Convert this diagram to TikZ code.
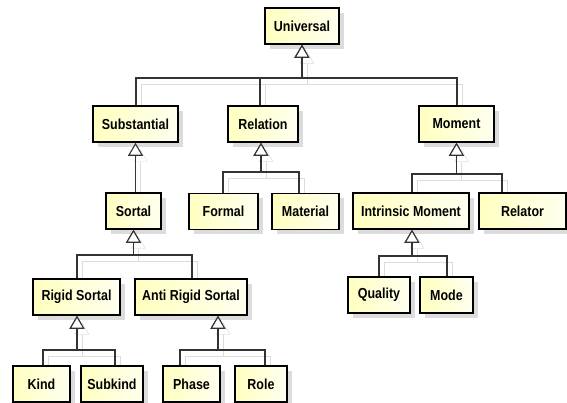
\documentclass[tikz,border=0pt]{standalone}
\usepackage{fontspec}
\newfontfamily\umlfont{Liberation Sans}[FakeStretch=0.86]
\usetikzlibrary{arrows.meta,shadows}
\definecolor{classfill}{HTML}{FFFFC0}
\definecolor{shadowgray}{HTML}{DCDCDC}
\tikzset{
  cls/.style={draw=black, line width=1.6pt, left color=classfill, right color=classfill!25,
    minimum height=36pt, inner sep=0pt, font=\umlfont\fontsize{14.5}{16}\selectfont\bfseries,
    drop shadow={shadow xshift=5pt, shadow yshift=-5pt, fill=shadowgray, opacity=1}},
  gen/.style={draw=black!80, line width=1.1pt, -{Triangle[fill=white, length=13pt, width=15pt]},
    preaction={draw=shadowgray, transform canvas={shift={(5pt,-6pt)}}, shorten <=6pt}}
}
\begin{document}
\begin{tikzpicture}[x=1pt,y=-1pt]
\useasboundingbox (0,0) rectangle (567,403);
% classes
\node[cls, minimum width=74pt] (universal) at (302,26) {Universal};
\node[cls, minimum width=85pt] (substantial) at (135.5,124) {Substantial};
\node[cls, minimum width=70pt] (relation) at (263,124) {Relation};
\node[cls, minimum width=75pt] (moment) at (456.5,124) {Moment};
\node[cls, minimum width=55pt] (sortal) at (133.5,211) {Sortal};
\node[cls, minimum width=69pt] (formal) at (223.5,211.5) {Formal};
\node[cls, minimum width=67pt] (material) at (305.5,211.5) {Material};
\node[cls, minimum width=116pt] (intrinsic) at (411,211) {Intrinsic Moment};
\node[cls, minimum width=87pt] (relator) at (522.5,211) {Relator};
\node[cls, minimum width=87pt] (rigid) at (76.5,297) {Rigid Sortal};
\node[cls, minimum width=112pt] (antirigid) at (191,297) {Anti Rigid Sortal};
\node[cls, minimum width=62pt] (quality) at (379,295) {Quality};
\node[cls, minimum width=53pt] (mode) at (446.5,295) {Mode};
\node[cls, minimum width=57pt] (kind) at (41.5,384) {Kind};
\node[cls, minimum width=62pt] (subkind) at (112,384) {Subkind};
\node[cls, minimum width=57pt] (phase) at (191.5,384) {Phase};
\node[cls, minimum width=52pt] (role) at (261,384) {Role};
% generalizations
\draw[gen] ([xshift=.5pt]substantial.north) |- (universal.south |- 0,78) -- (universal.south);
\draw[gen] ([xshift=-3pt]relation.north) |- (universal.south |- 0,78) -- (universal.south);
\draw[gen] ([xshift=.5pt]moment.north) |- (universal.south |- 0,78) -- (universal.south);
\draw[gen] (substantial.south |- sortal.north) -- (substantial.south);
\draw[gen] ([xshift=-.5pt]formal.north) |- ([xshift=-2pt]relation.south |- 0,172) -- ([xshift=-2pt]relation.south);
\draw[gen] ([xshift=-6.5pt]material.north) |- ([xshift=-2pt]relation.south |- 0,172) -- ([xshift=-2pt]relation.south);
\draw[gen] ([xshift=.5pt]rigid.north) |- (sortal.south |- 0,255) -- (sortal.south);
\draw[gen] ([xshift=1pt]antirigid.north) |- (sortal.south |- 0,255) -- (sortal.south);
\draw[gen] ([xshift=1.5pt]kind.north) |- ([xshift=.5pt]rigid.south |- 0,350) -- ([xshift=.5pt]rigid.south);
\draw[gen] ([xshift=3pt]subkind.north) |- ([xshift=.5pt]rigid.south |- 0,350) -- ([xshift=.5pt]rigid.south);
\draw[gen] ([xshift=-11.5pt]phase.north) |- ([xshift=27pt]antirigid.south |- 0,350) -- ([xshift=27pt]antirigid.south);
\draw[gen] ([xshift=4pt]role.north) |- ([xshift=27pt]antirigid.south |- 0,350) -- ([xshift=27pt]antirigid.south);
\draw[gen] ([xshift=1pt]intrinsic.north) |- (moment.south |- 0,174) -- (moment.south);
\draw[gen] ([xshift=-20.5pt]relator.north) |- (moment.south |- 0,174) -- (moment.south);
\draw[gen] (quality.north) |- ([xshift=1pt]intrinsic.south |- 0,256) -- ([xshift=1pt]intrinsic.south);
\draw[gen] ([xshift=.5pt]mode.north) |- ([xshift=1pt]intrinsic.south |- 0,256) -- ([xshift=1pt]intrinsic.south);
\end{tikzpicture}
\end{document}
